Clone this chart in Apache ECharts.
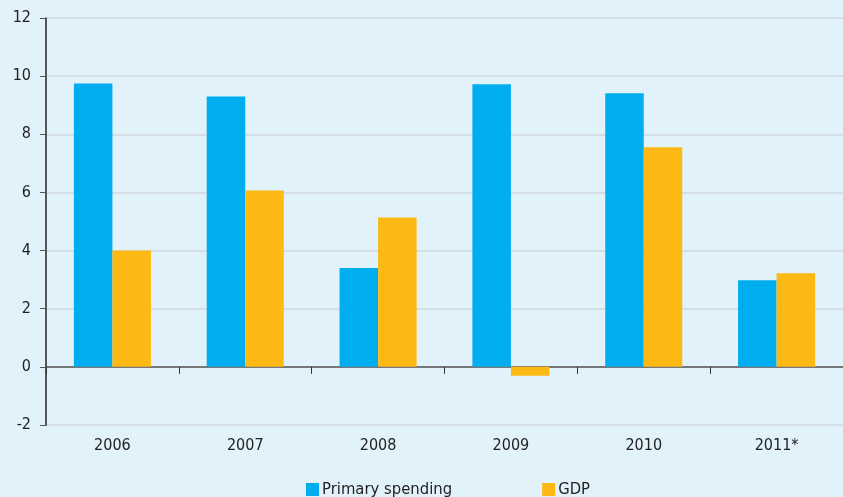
<!DOCTYPE html>
<html>
<head>
<meta charset="utf-8">
<script src="https://cdn.jsdelivr.net/npm/echarts@6/dist/echarts.min.js"></script>
<style>
html,body{margin:0;padding:0;background:#e1f2fa;}
#chart{width:843px;height:497px;}
</style>
</head>
<body>
<div id="chart"></div>
<script>
var categories = ['2006', '2007', '2008', '2009', '2010', '2011*'];
var primarySpending = [9.75, 9.3, 3.4, 9.72, 9.41, 2.98];
var gdp = [4.0, 6.07, 5.14, -0.31, 7.55, 3.22];
var seriesNames = ['Primary spending', 'GDP'];
var yTicks = { min: -2, max: 12, interval: 2 };

var font = '"DejaVu Sans Condensed", "DejaVu Sans", sans-serif';
var chart = echarts.init(document.getElementById('chart'), null, { renderer: 'canvas' });
chart.setOption({
  backgroundColor: '#e1f2fa',
  animation: false,
  textStyle: { fontFamily: font },
  grid: { left: 46, right: 0, top: 18, bottom: 72 },
  legend: {
    left: 301,
    top: 476,
    itemWidth: 13,
    itemHeight: 13,
    itemGap: 90,
    icon: 'rect',
    textStyle: { fontFamily: font, fontSize: 16.5, color: '#222', padding: [0, 0, 0, -2] },
    data: seriesNames
  },
  xAxis: [
    {
      type: 'category',
      data: categories,
      position: 'bottom',
      axisLine: { show: false, onZero: false },
      axisTick: { show: false },
      axisLabel: { color: '#222', fontSize: 16, fontFamily: font, margin: 13 }
    },
    {
      type: 'category',
      data: categories,
      position: 'bottom',
      axisLine: { show: true, onZero: true, lineStyle: { color: '#555', width: 1.5 } },
      axisTick: { show: true, length: 7, inside: false, lineStyle: { color: '#333', width: 1 } },
      axisLabel: { show: false }
    }
  ],
  yAxis: {
    type: 'value',
    min: yTicks.min,
    max: yTicks.max,
    interval: yTicks.interval,
    axisLine: { show: true, lineStyle: { color: '#222', width: 1.5 } },
    axisTick: { show: true, length: 6, lineStyle: { color: '#555' } },
    axisLabel: { color: '#222', fontSize: 16, fontFamily: font, margin: 15 },
    splitLine: { show: true, lineStyle: { color: '#cfd7dd', width: 1.5 } }
  },
  series: [
    {
      name: seriesNames[0],
      type: 'bar',
      data: primarySpending,
      itemStyle: { color: '#00aeef' },
      barGap: '0%',
      barCategoryGap: '42%'
    },
    {
      name: seriesNames[1],
      type: 'bar',
      data: gdp,
      itemStyle: { color: '#fdb913' },
      barGap: '0%',
      barCategoryGap: '42%'
    }
  ]
});
</script>
</body>
</html>
